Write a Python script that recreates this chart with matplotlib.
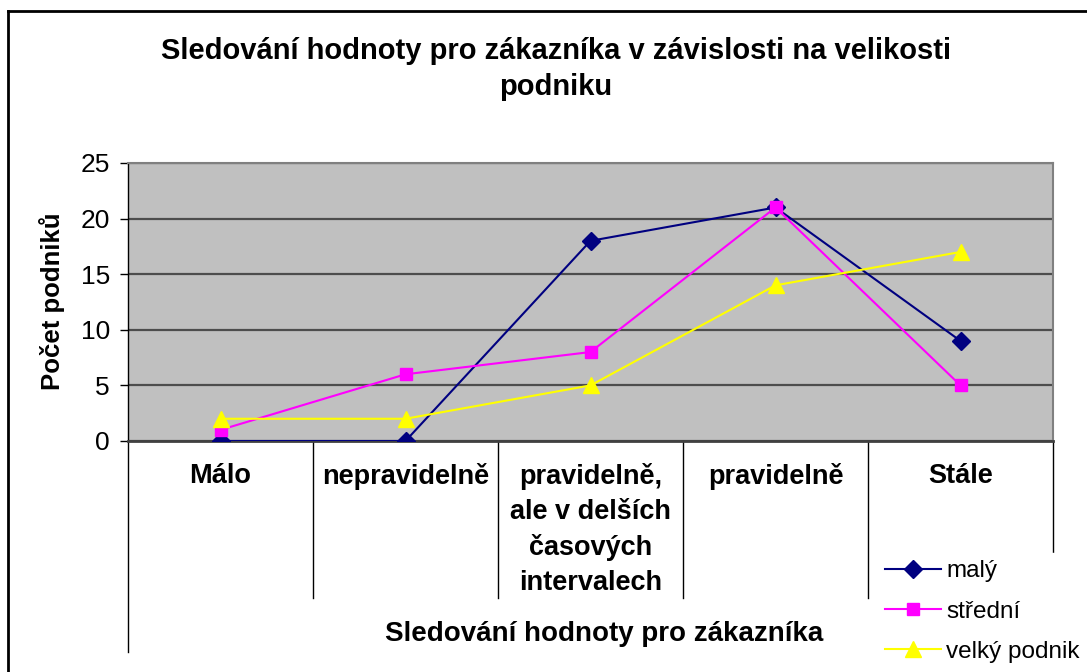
import matplotlib.pyplot as plt
from matplotlib.lines import Line2D
import matplotlib.transforms as mtransforms

plt.rcParams['font.family'] = ['Liberation Sans', 'DejaVu Sans']

# === DATA ===
categories = ['Málo', 'nepravidelně', 'pravidelně,\nale v delších\nčasových\nintervalech',
              'pravidelně', 'Stále']
maly = [0, 0, 18, 21, 9]
stredni = [1, 6, 8, 21, 5]
velky = [2, 2, 5, 14, 17]
series_names = ['malý', 'střední', 'velký podnik']
y_ticks = [0, 5, 10, 15, 20, 25]

W, H = 1087, 672
fig = plt.figure(figsize=(W / 100, H / 100), dpi=100)

# plot area in pixel coords
left, right, top, bottom = 128, 1053, 163, 441
ax = fig.add_axes([left / W, 1 - bottom / H, (right - left) / W, (bottom - top) / H])
ax.set_facecolor('#c0c0c0')

x = list(range(len(categories)))
ax.plot(x, maly, color='#000080', marker='D', markersize=9, linewidth=1.5, label=series_names[0], zorder=3)
ax.plot(x, stredni, color='#ff00ff', marker='s', markersize=9, linewidth=1.5, label=series_names[1], zorder=4)
ax.plot(x, velky, color='#ffff00', marker='^', markersize=11, linewidth=1.5, label=series_names[2], zorder=5)

ax.set_xlim(-0.5, len(categories) - 0.5)
ax.set_ylim(0, 25)
ax.set_yticks(y_ticks)
ax.tick_params(axis='y', labelsize=19, length=6, width=1, color='#000000', pad=7, direction='out')
ax.set_xticks([])
ax.yaxis.grid(True, color='#4d4d4d', linewidth=1.6)
ax.set_axisbelow(True)

for s in ['top', 'right']:
    ax.spines[s].set_color('#808080')
    ax.spines[s].set_linewidth(1.5)
ax.spines['left'].set_color('#000000')
ax.spines['left'].set_linewidth(1)
ax.spines['bottom'].set_color('#404040')
ax.spines['bottom'].set_linewidth(2)

# category dividers below the axis
trans = mtransforms.blended_transform_factory(ax.transData, ax.transAxes)
ph = bottom - top
for i in range(len(categories) + 1):
    xb = i - 0.5
    y_end = (bottom - 652) / ph if i == 0 else (bottom - 598) / ph
    ax.add_line(Line2D([xb, xb], [0, y_end], transform=trans, color='black',
                       linewidth=1, clip_on=False, zorder=1))

# category labels
for i, lab in enumerate(categories):
    ax.text(i, (bottom - 463) / ph, lab, transform=trans, ha='center', va='top',
            fontsize=19.5, fontweight='bold', linespacing=1.45)

ax.text(0.515, (bottom - 634) / ph, 'Sledování hodnoty pro zákazníka',
        transform=ax.transAxes, ha='center', va='center', fontsize=20, fontweight='bold')

fig.text(52 / W, 1 - 301 / H, 'Počet podniků', rotation=90, ha='center', va='center',
         fontsize=18.5, fontweight='bold')

fig.text(556 / W, 1 - 69 / H, 'Sledování hodnoty pro zákazníka v závislosti na velikosti\npodniku',
         ha='center', va='center', fontsize=21, fontweight='bold', linespacing=1.4)

# outer chart border (cropped on right and bottom)
fig.add_artist(Line2D([8 / W, 1.0], [1 - 11 / H, 1 - 11 / H], transform=fig.transFigure,
                      color='black', linewidth=2))
fig.add_artist(Line2D([8 / W, 8 / W], [1 - 11 / H, 0], transform=fig.transFigure,
                      color='black', linewidth=2))

leg = fig.legend(loc='upper left', bbox_to_anchor=(878 / W, 1 - 553 / H), fontsize=17.5,
                 frameon=True, facecolor='white', edgecolor='white', framealpha=1,
                 handlelength=2.3, handletextpad=0.2, labelspacing=0.75, borderpad=0.3,
                 borderaxespad=0)
leg.set_zorder(10)

fig.savefig('out.png', dpi=100)
